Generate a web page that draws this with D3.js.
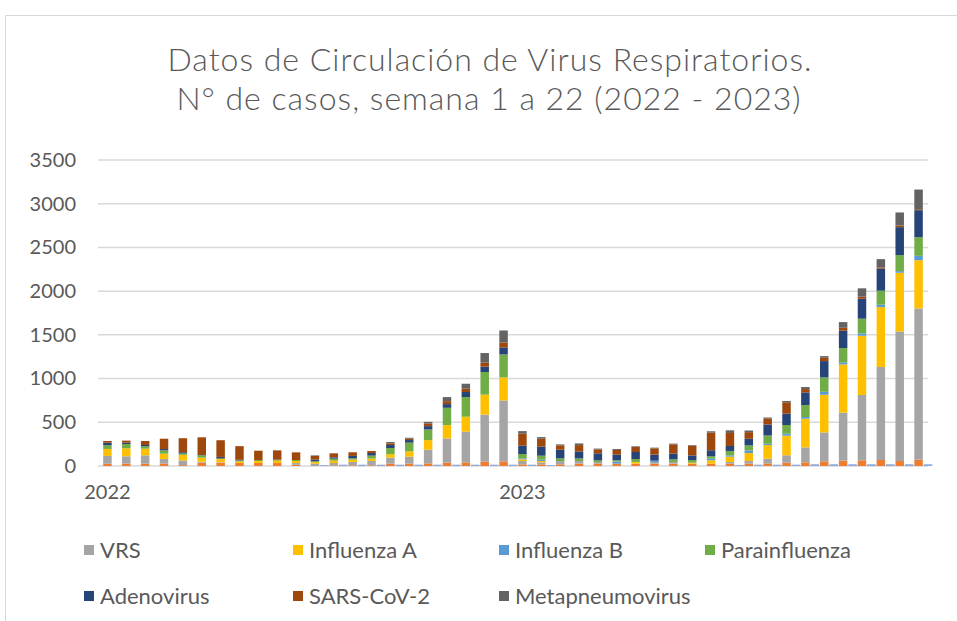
<!DOCTYPE html>
<html>
<head>
<meta charset="utf-8">
<script src="https://cdn.jsdelivr.net/npm/d3@7"></script>
<style>
  body { margin: 0; background: #fff; }
  text { font-family: Lato, "Noto Sans", sans-serif; fill: #595959; }
</style>
</head>
<body>
<div id="chart"></div>
<script>
// categorias: semanas 1 a 22 de 2022 y 2023
var categorias = [
  "2022-1","2022-2","2022-3","2022-4","2022-5","2022-6","2022-7","2022-8","2022-9","2022-10","2022-11",
  "2022-12","2022-13","2022-14","2022-15","2022-16","2022-17","2022-18","2022-19","2022-20","2022-21","2022-22",
  "2023-1","2023-2","2023-3","2023-4","2023-5","2023-6","2023-7","2023-8","2023-9","2023-10","2023-11",
  "2023-12","2023-13","2023-14","2023-15","2023-16","2023-17","2023-18","2023-19","2023-20","2023-21","2023-22"
];
// only the first week of each year carries a label
var etiquetasX = { "2022-1": "2022", "2023-1": "2023" };
var ticksY = [0, 500, 1000, 1500, 2000, 2500, 3000, 3500];

// series
var otros = [27,27,27,27,10,38,38,34,34,34,14,0,7,8,8,27,27,30,38,42,50,53,
             19,19,19,27,27,27,27,27,27,27,27,27,27,30,38,42,53,61,65,69,57,72];
var vrs = [88,84,95,53,53,11,5,0,0,0,20,25,27,38,50,69,80,156,278,351,537,697,
           38,23,38,30,19,0,0,19,19,0,0,19,30,53,84,171,331,549,747,1063,1482,1730];
var influenzaA = [80,91,76,61,65,46,42,19,23,27,23,19,27,27,27,38,61,110,152,171,229,263,
                  19,15,0,0,0,0,19,0,0,11,38,61,91,156,225,328,431,552,678,686,671,552];
var influenzaB = [0,0,0,0,0,0,0,0,0,0,0,0,0,0,0,0,0,0,0,0,0,0,
                  11,15,0,0,0,23,0,15,0,0,19,15,30,15,23,19,34,23,27,27,19,50];
var parainfluenza = [42,50,27,38,15,27,0,10,11,11,11,11,23,15,34,72,99,122,198,225,259,263,
                     50,46,30,30,19,15,34,0,30,30,27,50,57,95,99,137,164,164,168,160,183,213];
var adenovirus = [30,15,15,15,15,4,19,8,0,0,0,19,15,27,30,34,30,38,42,57,61,80,
                  95,103,99,80,80,65,80,69,65,53,69,57,76,126,130,145,187,198,229,251,320,309];
var sarsCov2 = [19,23,46,118,160,202,191,156,107,107,88,42,46,42,23,19,15,30,34,38,46,57,
                137,91,50,72,46,53,57,72,107,110,202,149,76,69,130,38,38,34,23,15,19,11];
var metapneumovirus = [0,0,0,0,0,0,0,0,0,0,0,6,0,0,0,15,11,19,46,57,110,137,
                       30,19,11,19,8,11,8,8,8,8,15,30,19,11,15,23,19,65,95,95,149,225];
// small unlabeled side series
var lateral = [0,0,0,0,0,0,0,0,0,0,0,10,15,15,15,15,15,15,15,15,15,15,
               15,10,0,0,0,0,0,0,0,0,0,10,15,15,15,20,20,20,20,20,20,20];

var series = [
  { key: "otros", name: null, color: "#ED7D31", values: otros },
  { key: "vrs", name: "VRS", color: "#A5A5A5", values: vrs },
  { key: "infA", name: "Influenza A", color: "#FFC000", values: influenzaA },
  { key: "infB", name: "Influenza B", color: "#5B9BD5", values: influenzaB },
  { key: "para", name: "Parainfluenza", color: "#70AD47", values: parainfluenza },
  { key: "adeno", name: "Adenovirus", color: "#264478", values: adenovirus },
  { key: "sars", name: "SARS-CoV-2", color: "#9E480E", values: sarsCov2 },
  { key: "meta", name: "Metapneumovirus", color: "#636363", values: metapneumovirus }
];

// table for d3.stack
var tabla = categorias.map(function(c, i) {
  var row = { cat: c };
  series.forEach(function(s) { row[s.key] = s.values[i]; });
  return row;
});

var width = 957, height = 621;
var svg = d3.select("#chart").append("svg")
  .attr("width", width)
  .attr("height", height);

// chart border (only top and left visible in the crop)
svg.append("path")
  .attr("d", "M5.5," + height + "V15.5H" + width)
  .attr("fill", "none")
  .attr("stroke", "#D9D9D9")
  .attr("stroke-width", 1);

// title
var title = svg.append("text")
  .attr("text-anchor", "middle")
  .style("font-size", "32px")
  .style("font-weight", 300)
  .style("letter-spacing", "1px");
title.append("tspan").attr("x", 490).attr("y", 71).text("Datos de Circulación de Virus Respiratorios.");
title.append("tspan").attr("x", 489).attr("y", 110).text("N° de casos, semana 1 a 22 (2022 - 2023)");

var plotLeft = 98, plotRight = 928;
var xScale = d3.scaleBand()
  .domain(categorias)
  .range([plotLeft, plotRight])
  .paddingInner(0.55)
  .paddingOuter(0.275);
var yScale = d3.scaleLinear()
  .domain([0, 3500])
  .range([466, 160]);

// gridlines
svg.append("g")
  .selectAll("line")
  .data(ticksY)
  .enter()
  .append("line")
  .attr("x1", plotLeft)
  .attr("x2", plotRight)
  .attr("y1", function(d) { return yScale(d); })
  .attr("y2", function(d) { return yScale(d); })
  .attr("stroke", "#D9D9D9")
  .attr("stroke-width", 1.5);

// y axis labels
var yAxis = d3.axisLeft(yScale)
  .tickValues(ticksY)
  .tickFormat(d3.format("d"))
  .tickSize(0)
  .tickPadding(0);
var yG = svg.append("g")
  .attr("transform", "translate(76,0)")
  .call(yAxis);
yG.select(".domain").remove();
yG.selectAll("text")
  .style("font-size", "20px")
  .style("fill", "#595959")
  .style("font-family", "Lato, 'Noto Sans', sans-serif");

// x axis labels
var xAxis = d3.axisBottom(xScale)
  .tickSize(0)
  .tickPadding(0)
  .tickFormat(function(d) { return etiquetasX[d] || ""; });
var xG = svg.append("g")
  .attr("transform", "translate(0,485)")
  .call(xAxis);
xG.select(".domain").remove();
xG.selectAll("text")
  .style("font-size", "20px")
  .style("fill", "#595959")
  .style("font-family", "Lato, 'Noto Sans', sans-serif");

// side bars (unlabeled)
svg.append("g")
  .selectAll("rect")
  .data(lateral)
  .enter()
  .append("rect")
  .attr("x", function(d, i) { return xScale(categorias[i]) + xScale.step() / 2; })
  .attr("width", xScale.bandwidth())
  .attr("y", function(d) { return yScale(d); })
  .attr("height", function(d) { return yScale(0) - yScale(d); })
  .attr("fill", "#8FAADC");

// stacked columns
var stack = d3.stack().keys(series.map(function(s) { return s.key; }));
var capas = stack(tabla);
svg.append("g")
  .selectAll("g")
  .data(capas)
  .enter()
  .append("g")
  .attr("fill", function(d, i) { return series[i].color; })
  .selectAll("rect")
  .data(function(d) { return d; })
  .enter()
  .append("rect")
  .attr("x", function(d) { return xScale(d.data.cat); })
  .attr("width", xScale.bandwidth())
  .attr("y", function(d) { return yScale(d[1]); })
  .attr("height", function(d) { return yScale(d[0]) - yScale(d[1]); });

// legend
var leyenda = series.filter(function(s) { return s.name; });
var legX = [84, 293, 499, 705];
var legY = [550, 596];
var items = svg.append("g")
  .selectAll("g")
  .data(leyenda)
  .enter()
  .append("g")
  .attr("transform", function(d, i) {
    return "translate(" + legX[i % 4] + "," + legY[Math.floor(i / 4)] + ")";
  });
items.append("rect")
  .attr("x", 0)
  .attr("y", -5)
  .attr("width", 10)
  .attr("height", 10)
  .attr("fill", function(d) { return d.color; });
items.append("text")
  .attr("x", 16)
  .attr("dy", "0.35em")
  .style("font-size", "22px")
  .text(function(d) { return d.name; });
</script>
</body>
</html>
